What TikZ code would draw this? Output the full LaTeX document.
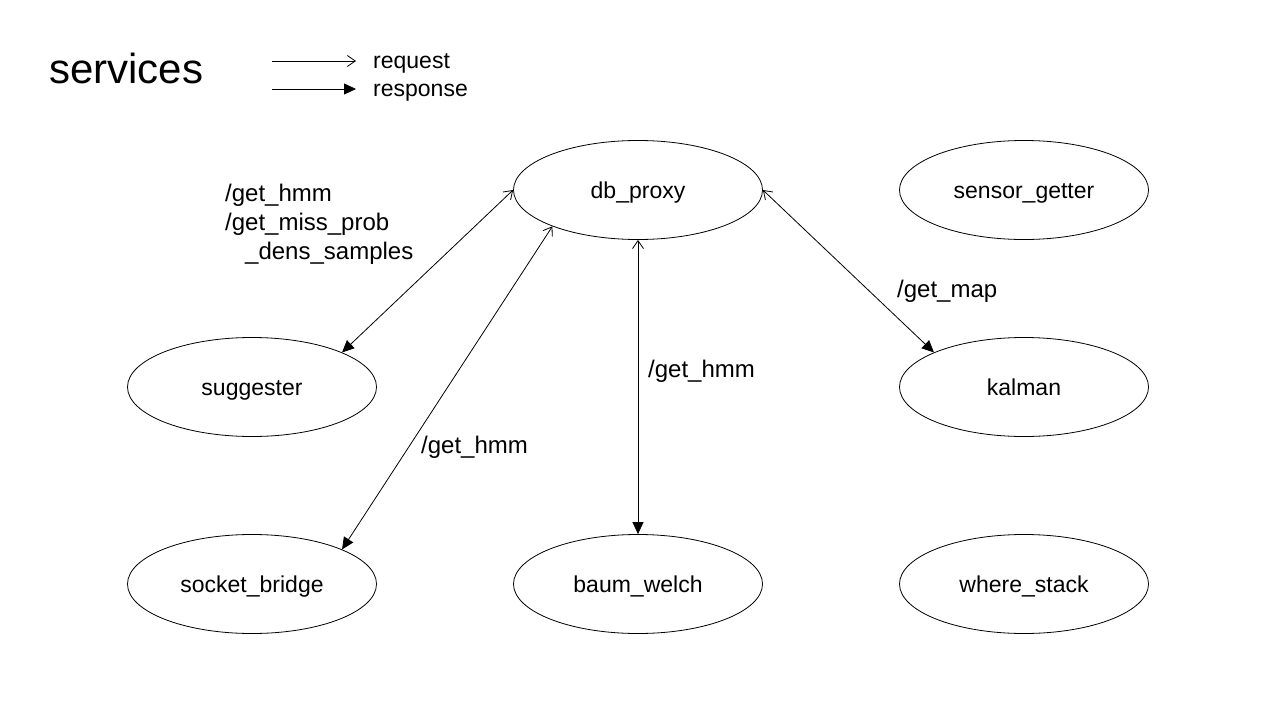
\documentclass[tikz,border=0pt]{standalone}
\usepackage{fontspec}
\setmainfont{Liberation Sans}
\usetikzlibrary{arrows.meta,shapes.geometric}
\tikzset{
  svc/.style={draw, ellipse, line width=0.8pt, minimum width=249pt, minimum height=99pt, inner sep=0pt, text height=20pt, text depth=4pt, font=\fontsize{23}{27}\selectfont},
  lbl/.style={anchor=base west, inner sep=0pt, font=\fontsize{24}{28}\selectfont},
  link/.style={line width=0.8pt, {Straight Barb[length=8pt,width=11pt]}-{Triangle[length=12pt,width=11pt]}},
}
\begin{document}
\begin{tikzpicture}[x=1pt,y=-1pt]
\useasboundingbox (0,0) rectangle (1280,720);
% title and legend
\node[anchor=base west, inner sep=0pt, font=\fontsize{42}{46}\selectfont] (title) at (49,83) {services};
\coordinate (rq1) at (272,61);
\coordinate (rq2) at (356,61);
\coordinate (rs1) at (272,89);
\coordinate (rs2) at (356,89);
\draw[line width=0.8pt, -{Straight Barb[length=8pt,width=11pt]}] (rq1) -- (rq2);
\draw[line width=0.8pt, -{Triangle[length=12pt,width=11pt]}] (rs1) -- (rs2);
\node[anchor=base west, inner sep=0pt, font=\fontsize{23}{27}\selectfont] (lreq) at (373,68) {request};
\node[anchor=base west, inner sep=0pt, font=\fontsize{23}{27}\selectfont] (lres) at (373,96) {response};
% services
\node[svc] (db) at (638,190) {db\_proxy};
\node[svc] (sg) at (1024,190) {sensor\_getter};
\node[svc] (su) at (252,387) {suggester};
\node[svc] (ka) at (1024,387) {kalman};
\node[svc] (sb) at (252,584) {socket\_bridge};
\node[svc] (bw) at (638,584) {baum\_welch};
\node[svc] (ws) at (1024,584) {where\_stack};
% connectors
\draw[link] (db.west) -- (su.21);
\draw[link] (db.203) -- (sb.21);
\draw[link] (db.south) -- (bw.north);
\draw[link] (db.east) -- (ka.159);
% labels
\node[lbl] (l1a) at (225,201) {/get\_hmm};
\node[lbl] (l1b) at (225,230) {/get\_miss\_prob};
\node[lbl] (l1c) at (245,259) {\_dens\_samples};
\node[lbl] (l2) at (421,453) {/get\_hmm};
\node[lbl] (l3) at (648,377) {/get\_hmm};
\node[lbl] (l4) at (897,297) {/get\_map};
\end{tikzpicture}
\end{document}
